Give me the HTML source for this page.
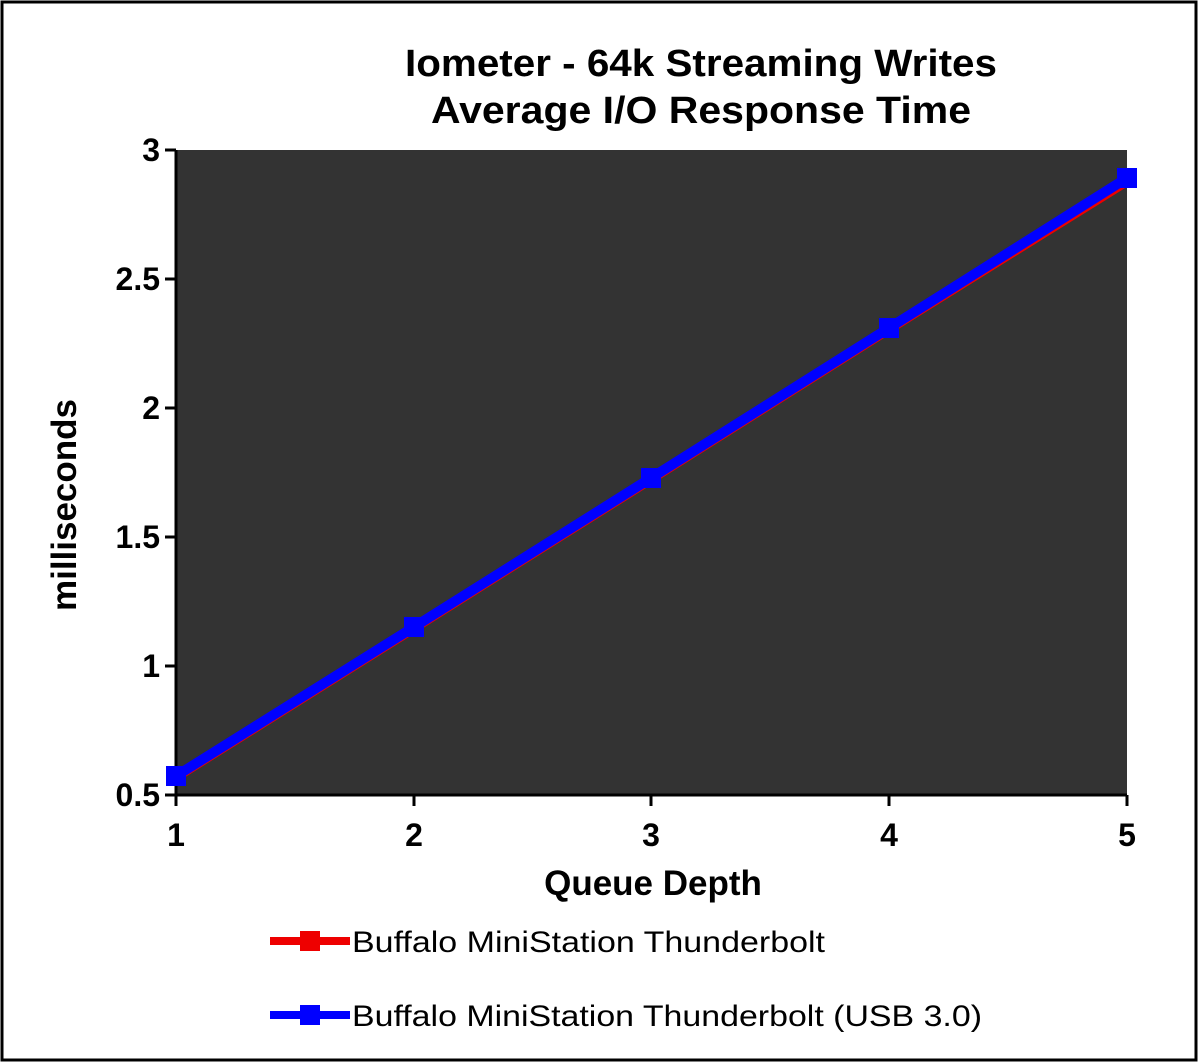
<!DOCTYPE html>
<html><head><style>body{margin:0;background:#fff}svg{display:block}</style></head><body>
<svg width="1200" height="1064" viewBox="0 0 1200 1064" font-family="Liberation Sans, Arial, sans-serif">
<rect x="0" y="0" width="1200" height="1064" fill="#fff"/>
<rect x="2" y="2" width="1194" height="1058" fill="none" stroke="#000" stroke-width="3"/>
<text x="405" y="76" font-size="38" font-weight="bold" textLength="592" lengthAdjust="spacingAndGlyphs">Iometer - 64k  Streaming Writes</text>
<text x="431" y="123" font-size="38" font-weight="bold" textLength="540" lengthAdjust="spacingAndGlyphs">Average I/O Response Time</text>
<rect x="176" y="150" width="951" height="645" fill="#333"/>
<line x1="176" y1="150" x2="176" y2="796" stroke="#000" stroke-width="3"/>
<line x1="175" y1="795" x2="1127" y2="795" stroke="#000" stroke-width="3"/>
<g stroke="#000" stroke-width="3">
<line x1="165" y1="150" x2="176" y2="150"/><line x1="165" y1="279" x2="176" y2="279"/><line x1="165" y1="408" x2="176" y2="408"/><line x1="165" y1="537" x2="176" y2="537"/><line x1="165" y1="666" x2="176" y2="666"/><line x1="165" y1="795" x2="176" y2="795"/>
<line x1="176" y1="795" x2="176" y2="806"/><line x1="414" y1="795" x2="414" y2="806"/><line x1="651" y1="795" x2="651" y2="806"/><line x1="889" y1="795" x2="889" y2="806"/><line x1="1127" y1="795" x2="1127" y2="806"/>
</g>
<g font-size="32" font-weight="bold" text-anchor="end">
<text x="160" y="161">3</text><text x="160" y="290">2.5</text><text x="160" y="419">2</text><text x="160" y="548">1.5</text><text x="160" y="677">1</text><text x="160" y="806">0.5</text>
</g>
<g font-size="32" font-weight="bold" text-anchor="middle">
<text x="176" y="846">1</text><text x="414" y="846">2</text><text x="651" y="846">3</text><text x="889" y="846">4</text><text x="1127" y="846">5</text>
</g>
<text x="653" y="895" font-size="35" font-weight="bold" text-anchor="middle">Queue Depth</text>
<text transform="translate(76,505) rotate(-90)" font-size="35" font-weight="bold" text-anchor="middle">milliseconds</text>
<polyline points="176,777 414,628 651,479 889,329 1127,181" fill="none" stroke="#e00" stroke-width="10"/>
<polyline points="176,776 414,627 651,478 889,328 1127,178" fill="none" stroke="#0000ff" stroke-width="10"/>
<g fill="#0000ff">
<rect x="166" y="766" width="20" height="20"/><rect x="404" y="617" width="20" height="20"/><rect x="641" y="468" width="20" height="20"/><rect x="879" y="318" width="20" height="20"/><rect x="1117" y="168" width="20" height="20"/>
</g>
<line x1="270" y1="941" x2="350" y2="941" stroke="#e00" stroke-width="8"/>
<rect x="300" y="931" width="20" height="20" fill="#e00"/>
<text x="352" y="952" font-size="30" textLength="473" lengthAdjust="spacingAndGlyphs">Buffalo MiniStation Thunderbolt</text>
<line x1="270" y1="1015" x2="350" y2="1015" stroke="#0000ff" stroke-width="8"/>
<rect x="300" y="1005" width="20" height="20" fill="#0000ff"/>
<text x="352" y="1026" font-size="30" textLength="630" lengthAdjust="spacingAndGlyphs">Buffalo MiniStation Thunderbolt (USB 3.0)</text>
</svg>
</body></html>
